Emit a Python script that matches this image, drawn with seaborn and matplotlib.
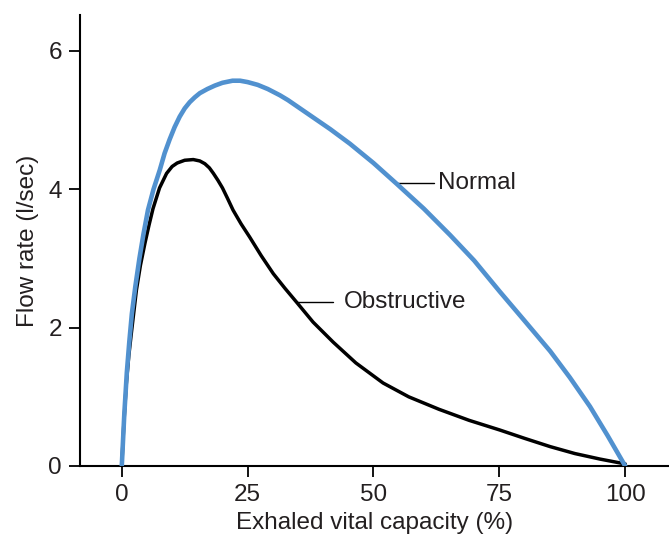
import matplotlib
matplotlib.use("Agg")
import matplotlib.pyplot as plt
import seaborn as sns
import pandas as pd

# Data
normal_x = [0, 0.5, 1.0, 1.5, 2.0, 2.7, 3.5, 4.3, 5.2, 6.3, 7.55, 8.5, 9.5, 10.5, 11.5,
            12.5, 13.5, 14.5, 15.5, 17.0, 18.5, 20.0, 22.0, 23.5, 25.0, 27.0, 29.0,
            31.4, 33.0, 35.4, 38.0, 41.4, 45.3, 50.0, 54.6, 60.0, 65.2, 70.0, 75.1,
            80.0, 85.1, 89.0, 93.0, 96.5, 100]
normal_y = [0, 0.75, 1.35, 1.8, 2.2, 2.6, 3.0, 3.35, 3.70, 4.0, 4.28, 4.52, 4.72, 4.90, 5.05,
            5.17, 5.26, 5.33, 5.39, 5.45, 5.50, 5.54, 5.57, 5.57, 5.55, 5.51, 5.45,
            5.36, 5.29, 5.17, 5.04, 4.87, 4.66, 4.38, 4.08, 3.72, 3.34, 2.97, 2.52,
            2.10, 1.66, 1.28, 0.86, 0.44, 0]

obstr_x = [0, 0.4, 0.9, 1.4, 1.9, 2.9, 3.7, 4.6, 5.4, 6.2, 7.5, 8.9, 10.0, 11.0, 12.5,
           14.2, 15.5, 16.5, 17.4, 18.2, 19.1, 20.0, 21.0, 22.1, 23.7, 25.4, 27.7, 30.1,
           32.4, 34.7, 38.0, 42.0, 46.5, 51.9, 57.0, 63.0, 69.0, 75.1, 80.0, 85.1,
           90.0, 95.0, 100]
obstr_y = [0, 0.6, 1.19, 1.6, 1.92, 2.54, 2.90, 3.22, 3.48, 3.72, 4.02, 4.23, 4.33, 4.38, 4.42,
           4.43, 4.41, 4.37, 4.31, 4.23, 4.13, 4.02, 3.87, 3.70, 3.50, 3.31, 3.04, 2.78,
           2.57, 2.37, 2.08, 1.79, 1.49, 1.20, 1.00, 0.82, 0.66, 0.52, 0.40, 0.28,
           0.18, 0.10, 0.03]

x_ticks = [0, 25, 50, 75, 100]
y_ticks = [0, 2, 4, 6]

sns.set_style("ticks")
plt.rcParams['font.family'] = ['Liberation Sans', 'DejaVu Sans']

text_color = "#231f20"
blue = "#5191cf"

fig = plt.figure(figsize=(6.69, 5.36), dpi=100)
ax = fig.add_axes([80/669, 70/536, 1 - 80/669, (466-15)/536])

df_n = pd.DataFrame({"x": normal_x, "y": normal_y})
df_o = pd.DataFrame({"x": obstr_x, "y": obstr_y})
sns.lineplot(data=df_o, x="x", y="y", ax=ax, color="black", linewidth=2.5, sort=False,
             estimator=None)
sns.lineplot(data=df_n, x="x", y="y", ax=ax, color=blue, linewidth=3.3, sort=False,
             estimator=None, zorder=3)
for line in ax.lines:
    line.set_solid_joinstyle('round')
    line.set_solid_capstyle('round')

ax.set_xlim(-8.3, 108.7)
ax.set_ylim(0, 6.52)
ax.set_xticks(x_ticks)
ax.set_yticks(y_ticks)
ax.tick_params(axis='both', direction='out', length=8, width=1.3, labelsize=17.5,
               colors='black', labelcolor=text_color, pad=5)
for s in ['top', 'right']:
    ax.spines[s].set_visible(False)
for s in ['left', 'bottom']:
    ax.spines[s].set_linewidth(1.5)
    ax.spines[s].set_color('black')

ax.set_xlabel("Exhaled vital capacity (%)", fontsize=17.5, color=text_color, labelpad=4)
ax.set_ylabel("Flow rate (l/sec)", fontsize=17.5, color=text_color, labelpad=7)

# Leader lines and labels
ax.plot([54.6, 62.0], [4.09, 4.09], color="black", linewidth=1.0)
ax.text(62.8, 4.09, "Normal", fontsize=17.5, color=text_color, va='center', ha='left')
ax.plot([34.7, 42.0], [2.37, 2.37], color="black", linewidth=1.0)
ax.text(44.1, 2.37, "Obstructive", fontsize=17.5, color=text_color, va='center', ha='left')

fig.savefig("out.png", dpi=100)
